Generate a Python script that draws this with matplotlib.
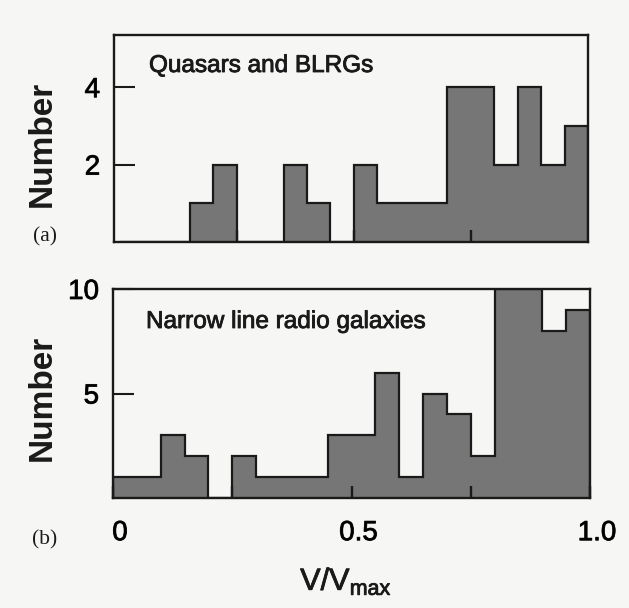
import matplotlib
matplotlib.use('Agg')
import matplotlib.pyplot as plt
import matplotlib.patheffects as pe
from matplotlib.transforms import ScaledTranslation

# ---- data ----
bin_edges = [0.00, 0.05, 0.10, 0.15, 0.20, 0.25, 0.30, 0.35, 0.40, 0.45, 0.50,
             0.55, 0.60, 0.65, 0.70, 0.75, 0.80, 0.85, 0.90, 0.95, 1.00]
quasar_counts = [0, 0, 0, 1, 2, 0, 0, 2, 1, 0, 2, 1, 1, 1, 4, 4, 2, 4, 2, 3]
nlrg_counts = [1, 1, 3, 2, 0, 2, 1, 1, 1, 3, 3, 6, 1, 5, 4, 2, 10, 10, 8, 9]

xa_ticks = [0.25, 0.5, 0.75]
x_ticks = [0.0, 0.25, 0.5, 0.75, 1.0]
x_tick_labels = ['0', '', '0.5', '', '1.0']
ya_ticks = [2, 4]
yb_ticks = [5, 10]
label_a = 'Quasars and BLRGs'
label_b = 'Narrow line radio galaxies'

plt.rcParams['font.family'] = ['Liberation Sans', 'DejaVu Sans']

BG = '#f6f6f4'
FILL = '#767676'
INK = '#1a1a1a'
HEAVY = [pe.withStroke(linewidth=0.6, foreground=INK)]

fig = plt.figure(figsize=(6.29, 6.08), dpi=100, facecolor=BG)
W, H = 629, 608

def box(l, t, r, b):
    return [l / W, (H - b) / H, (r - l) / W, (b - t) / H]

ax_a = fig.add_axes(box(114, 35, 588, 242))
ax_b = fig.add_axes(box(113, 289, 590, 498))

for ax, counts in ((ax_a, quasar_counts), (ax_b, nlrg_counts)):
    ax.set_facecolor(BG)
    ax.stairs(counts, bin_edges, fill=True, color=FILL, linewidth=0, zorder=1)
    ax.stairs(counts, bin_edges, fill=False, color=INK, linewidth=1.6, zorder=1.5)
    for s in ax.spines.values():
        s.set_linewidth(1.7)
        s.set_color(INK)
    ax.tick_params(axis='x', direction='in', length=9, width=1.7, color=INK,
                   pad=16, labelsize=20, bottom=True, top=False)
    ax.tick_params(axis='y', direction='in', length=15, width=1.5, color=INK,
                   pad=10, labelsize=20, left=True, right=False)

ax_a.set_xlim(-0.012, 1.0)
ax_a.set_ylim(0, 5.35)
ax_a.set_xticks(xa_ticks)
ax_a.set_yticks(ya_ticks)
ax_a.set_xticklabels([])

ax_b.set_xlim(0, 1.0)
ax_b.set_ylim(0, 10)
ax_b.set_xticks(x_ticks)
ax_b.set_yticks(yb_ticks)
ax_b.set_xticklabels(x_tick_labels)
off = ScaledTranslation(7 / 100, 0, fig.dpi_scale_trans)
for lab in ax_b.get_xticklabels():
    lab.set_transform(lab.get_transform() + off)

for ax in (ax_a, ax_b):
    for lab in ax.get_xticklabels() + ax.get_yticklabels():
        lab.set_path_effects(HEAVY)

ax_a.text(149 / W, 1 - 66 / H, label_a, transform=fig.transFigure,
          fontsize=17.5, color=INK, va='center', ha='left', path_effects=HEAVY)
ax_b.text(146 / W, 1 - 322 / H, label_b, transform=fig.transFigure,
          fontsize=17.5, color=INK, va='center', ha='left', path_effects=HEAVY)

fig.text(42 / W, 1 - 144 / H, 'Number', rotation=90, fontsize=24,
         fontweight='bold', color=INK, ha='center', va='center')
fig.text(42 / W, 1 - 398 / H, 'Number', rotation=90, fontsize=24,
         fontweight='bold', color=INK, ha='center', va='center')

fig.text(45 / W, 1 - 237 / H, '(a)', fontsize=15.5, color=INK,
         family=['Liberation Serif', 'DejaVu Serif'], ha='center', va='center')
fig.text(45 / W, 1 - 540 / H, '(b)', fontsize=15.5, color=INK,
         family=['Liberation Serif', 'DejaVu Serif'], ha='center', va='center')

fig.text(346 / W, 1 - 581 / H, r'V/V$_{\mathregular{max}}$', fontsize=22,
         color=INK, ha='center', va='center', path_effects=HEAVY)

fig.savefig('out.png', dpi=100, facecolor=BG)
